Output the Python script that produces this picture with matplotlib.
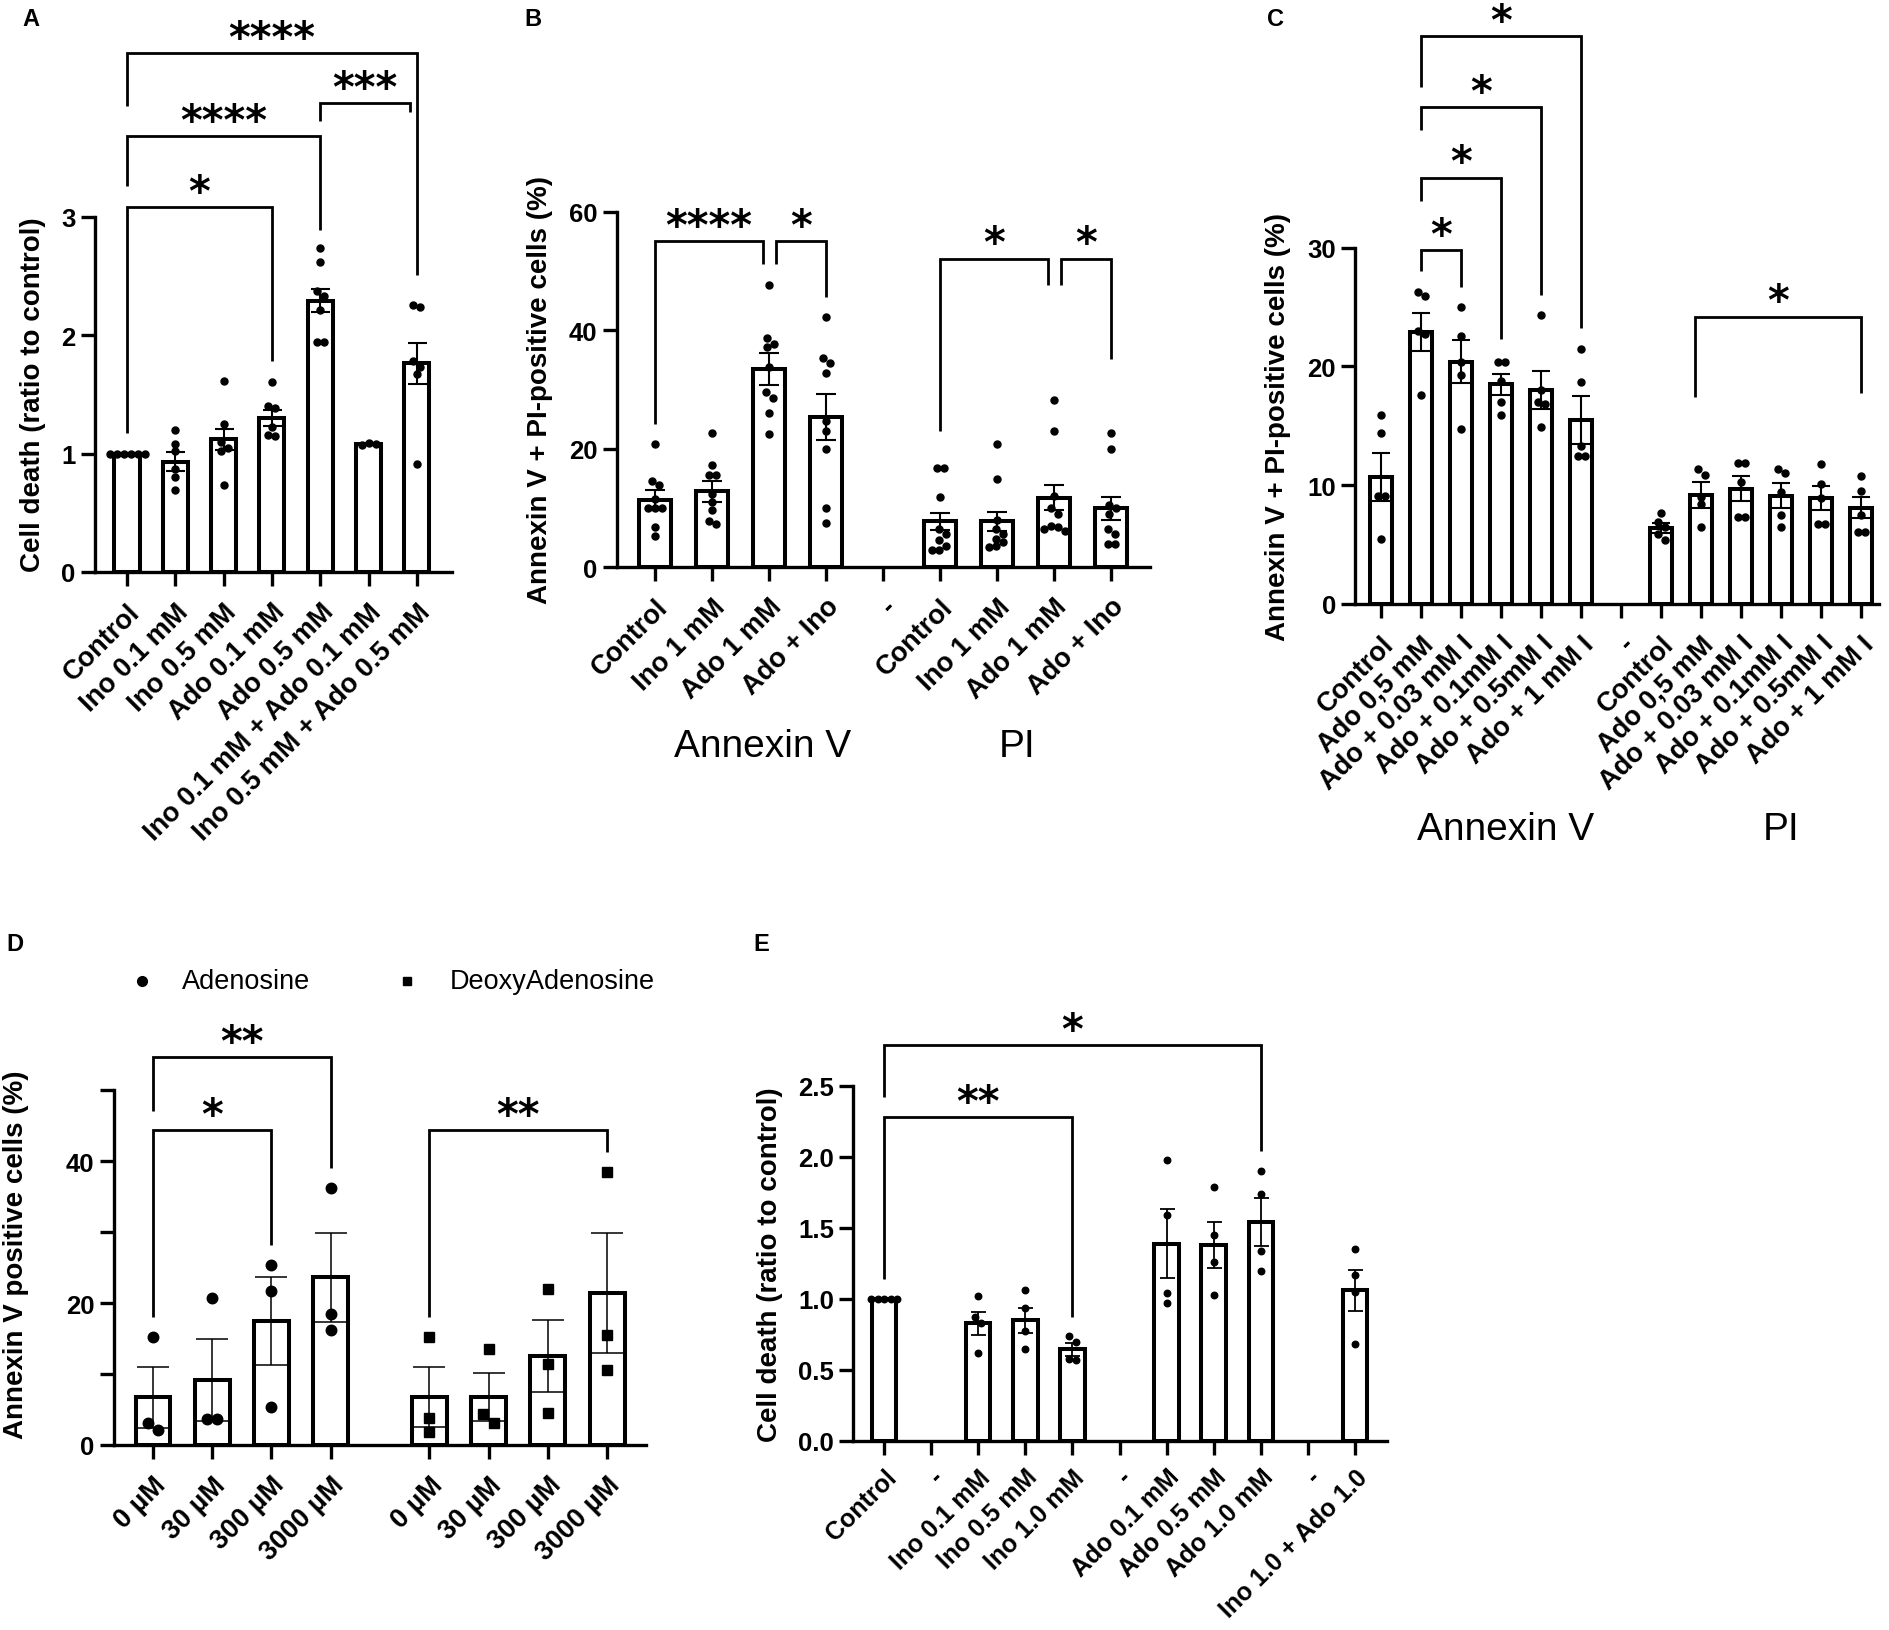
import numpy as np
import matplotlib
matplotlib.use('Agg')
import matplotlib.pyplot as plt
from matplotlib.lines import Line2D

nan = np.nan

# ---------------- DATA ----------------
# Panel A
labels_A = ['Control', 'Ino 0.1 mM', 'Ino 0.5 mM', 'Ado 0.1 mM', 'Ado 0.5 mM',
            'Ino 0.1 mM + Ado 0.1 mM', 'Ino 0.5 mM + Ado 0.5 mM']
mean_A = [1.00, 0.93, 1.12, 1.30, 2.29, 1.08, 1.76]
sem_A = [0.005, 0.08, 0.09, 0.07, 0.10, 0.01, 0.17]
pts_A = [[1.0, 1.0, 1.0, 1.0, 1.0, 1.0],
         [1.20, 1.08, 1.02, 0.87, 0.80, 0.69],
         [1.61, 1.25, 1.10, 1.05, 1.02, 0.73],
         [1.60, 1.40, 1.38, 1.22, 1.16, 1.15],
         [2.73, 2.62, 2.37, 2.33, 2.21, 1.94, 1.94],
         [1.09, 1.08, 1.07],
         [2.25, 2.24, 1.78, 1.73, 1.67, 0.91]]
sig_A = [(0, 3, 3.08, 1.17, 1.78, '*'),
         (0, 4, 3.68, 3.26, 2.89, '****'),
         (4, 5.85, 3.96, 3.81, 3.88, '***'),
         (0, 6, 4.38, 3.93, 2.51, '****')]

# Panel B
labels_B = ['Control', 'Ino 1 mM', 'Ado 1 mM', 'Ado + Ino', '-',
            'Control', 'Ino 1 mM', 'Ado 1 mM', 'Ado + Ino']
mean_B = [11.3, 12.8, 33.4, 25.4, nan, 7.7, 7.7, 11.7, 9.9]
sem_B = [1.7, 1.8, 2.7, 3.9, nan, 1.5, 1.6, 2.1, 1.9]
pts_B = [[20.8, 14.5, 13.8, 11.5, 10.0, 9.9, 9.9, 6.8, 5.2],
         [22.6, 17.3, 15.5, 15.5, 12.3, 11.0, 9.7, 7.8, 7.2],
         [47.7, 38.6, 37.6, 37.2, 33.8, 29.6, 28.5, 26.0, 22.5],
         [42.3, 35.3, 34.4, 32.7, 24.6, 23.0, 20.0, 9.9, 7.5],
         [],
         [16.8, 16.7, 11.9, 6.4, 5.5, 4.5, 3.6, 2.8, 2.9],
         [20.8, 14.8, 7.9, 6.5, 5.5, 4.8, 4.2, 3.6, 3.4],
         [28.2, 22.9, 12.0, 10.0, 9.0, 7.0, 6.8, 6.5, 6.0],
         [22.7, 19.9, 10.5, 9.9, 9.0, 6.4, 5.5, 3.9, 3.9]]
sig_B = [(0, 1.9, 55.0, 24.2, 51.1, '****'),
         (2.12, 3, 55.0, 51.1, 45.6, '*'),
         (5, 6.9, 52.1, 22.9, 47.6, '*'),
         (7.12, 8, 52.1, 47.6, 35.2, '*')]
groups_B = ['Annexin V', 'PI']

# Panel C
labels_C = ['Control', 'Ado 0,5 mM', 'Ado + 0.03 mM I', 'Ado + 0.1mM I', 'Ado + 0.5mM I',
            'Ado + 1 mM I', '-', 'Control', 'Ado 0,5 mM', 'Ado + 0.03 mM I',
            'Ado + 0.1mM I', 'Ado + 0.5mM I', 'Ado + 1 mM I']
mean_C = [10.7, 22.9, 20.4, 18.5, 18.0, 15.5, nan, 6.4, 9.2, 9.7, 9.1, 8.9, 8.1]
sem_C = [2.0, 1.6, 1.8, 0.9, 1.6, 2.0, nan, 0.4, 1.1, 1.05, 1.05, 1.0, 0.9]
pts_C = [[15.9, 14.4, 9.1, 9.1, 5.5],
         [26.3, 25.9, 23.0, 22.75, 17.6],
         [25.0, 22.6, 20.4, 19.3, 14.7],
         [20.4, 20.4, 18.8, 17.0, 15.9],
         [24.3, 18.0, 17.0, 16.8, 14.9],
         [21.5, 18.7, 13.3, 12.5, 12.5],
         [],
         [7.7, 6.9, 6.5, 5.9, 5.4],
         [11.4, 10.9, 9.0, 8.4, 6.5],
         [11.9, 11.9, 10.3, 7.3, 7.3],
         [11.4, 11.0, 9.4, 7.5, 6.5],
         [11.8, 10.1, 8.9, 6.7, 6.7],
         [10.8, 9.5, 7.5, 6.1, 6.1]]
sig_C = [(1, 2, 29.8, 28.0, 26.7, '*'),
         (1, 3, 35.9, 33.9, 22.3, '*'),
         (1, 4, 41.8, 39.9, 26.0, '*'),
         (1, 5, 47.8, 43.5, 23.2, '*'),
         (7.85, 12, 24.2, 17.4, 17.8, '*')]
groups_C = ['Annexin V', 'PI']

# Panel D
labels_D = ['0 µM', '30 µM', '300 µM', '3000 µM', '0 µM', '30 µM', '300 µM', '3000 µM']
series_D = ['Adenosine', 'DeoxyAdenosine']
mean_D = [6.7, 9.15, 17.4, 23.6, 6.8, 6.8, 12.5, 21.4]
sem_D = [4.3, 5.8, 6.2, 6.3, 4.2, 3.4, 5.1, 8.5]
pts_D = [[15.2, 3.1, 2.1], [20.7, 3.6, 3.6], [25.4, 21.7, 5.3], [36.2, 18.5, 16.2],
         [15.2, 3.8, 1.8], [13.5, 4.3, 3.1], [22.0, 11.4, 4.5], [38.4, 15.5, 10.5]]
sig_D = [(0, 2, 44.3, 18.0, 28.2, '*'),
         (0, 3, 54.6, 47.1, 39.0, '**'),
         (4, 7, 44.3, 18.0, 41.2, '**')]

# Panel E
labels_E = ['Control', '-', 'Ino 0.1 mM', 'Ino 0.5 mM', 'Ino 1.0 mM', '-',
            'Ado 0.1 mM', 'Ado 0.5 mM', 'Ado 1.0 mM', '-', 'Ino 1.0 + Ado 1.0']
mean_E = [1.0, nan, 0.83, 0.85, 0.645, nan, 1.39, 1.38, 1.54, nan, 1.06]
sem_E = [0.005, nan, 0.08, 0.09, 0.045, nan, 0.245, 0.16, 0.17, nan, 0.145]
pts_E = [[1.0, 1.0, 1.0, 1.0, 1.0], [],
         [1.02, 0.87, 0.83, 0.62], [1.06, 0.935, 0.775, 0.645], [0.74, 0.70, 0.58, 0.57], [],
         [1.98, 1.59, 1.04, 0.97], [1.79, 1.45, 1.26, 1.03], [1.90, 1.74, 1.34, 1.20], [],
         [1.35, 1.17, 1.05, 0.68]]
sig_E = [(0, 8, 2.79, 2.42, 2.04, '*'),
         (0, 4, 2.28, 1.14, 0.87, '**')]

# ---------------- FIGURE ----------------
W, H = 1889, 1631
plt.rcParams['font.family'] = ['Liberation Sans', 'DejaVu Sans']
fig = plt.figure(figsize=(W / 100, H / 100), dpi=100)
PX = 72 / 100.0  # points per pixel

YTICK_FS = 18.5
XTICK_FS = 19.5
LAB_FS = 20
GROUP_FS = 28
STAR_FAMILY = ['DejaVu Sans']


def make_ax(x0, ux, xlim, y0, uy, ylim, ytop, yticks, yticklabels):
    left = x0 + xlim[0] * ux
    right = x0 + xlim[1] * ux
    bottom = y0 - ylim[0] * uy
    top = y0 - ylim[1] * uy
    ax = fig.add_axes([left / W, 1 - bottom / H, (right - left) / W, (bottom - top) / H])
    ax.set_xlim(xlim)
    ax.set_ylim(ylim)
    for s in ['top', 'right']:
        ax.spines[s].set_visible(False)
    for s in ['left', 'bottom']:
        ax.spines[s].set_linewidth(2.4)
    ax.spines['left'].set_bounds(0, ytop)
    ax.set_yticks(yticks)
    ax.set_yticklabels(yticklabels, fontweight='bold', fontsize=YTICK_FS)
    ax.tick_params(axis='both', direction='out', length=10, width=2.4)
    ax.tick_params(axis='y', pad=4)
    ax.tick_params(axis='x', pad=9)
    ax.patch.set_alpha(0)
    return ax


def swarm_offsets(vals, d_px, ux, uy):
    order = sorted(range(len(vals)), key=lambda i: -vals[i])
    placed = {}
    cands = [0]
    for k in range(1, 12):
        cands += [k * d_px, -k * d_px]
    for i in order:
        y = vals[i] * uy
        for c in cands:
            ok = True
            for j, (px, py) in placed.items():
                if (c - px) ** 2 + (y - py) ** 2 < (0.95 * d_px) ** 2:
                    ok = False
                    break
            if ok:
                placed[i] = (c, y)
                break
    idx = sorted(placed.keys(), key=lambda i: placed[i][1])
    clusters, cur = [], [idx[0]] if idx else []
    for a, b in zip(idx[:-1], idx[1:]):
        if placed[b][1] - placed[a][1] < d_px:
            cur.append(b)
        else:
            clusters.append(cur)
            cur = [b]
    if cur:
        clusters.append(cur)
    off = [0.0] * len(vals)
    for cl in clusters:
        m = np.mean([placed[i][0] for i in cl])
        for i in cl:
            off[i] = (placed[i][0] - m) / ux
    return off


def draw_bars(ax, pos, means, sems, pts, ux, uy, width, dot_px, cap_px, elw,
              markers=None):
    for k, (x, m, s, p) in enumerate(zip(pos, means, sems, pts)):
        if np.isnan(m):
            continue
        ax.bar(x, m, width=width, facecolor='white', edgecolor='black',
               linewidth=2.9, zorder=2)
        mk = 'o' if markers is None else markers[k]
        if len(p):
            off = swarm_offsets(p, dot_px, ux, uy)
            ms = dot_px * PX * (0.9 if mk == 's' else 1.0)
            ax.plot([x + o for o in off], p, linestyle='none', marker=mk,
                    color='black', markersize=ms, zorder=3, clip_on=False)
        ax.errorbar([x], [m], yerr=[[s], [s]], fmt='none', ecolor='black',
                    elinewidth=elw, capsize=cap_px * PX, capthick=elw, zorder=4)


def bracket(ax, xl, xr, y, yl, yr, text, lw=2.0):
    ax.plot([xl, xl, xr, xr], [yl, y, y, yr], color='black', lw=lw, clip_on=False,
            solid_joinstyle='miter', solid_capstyle='butt', zorder=5)
    ax.annotate(text, xy=((xl + xr) / 2, y), xytext=(0, 1.5), textcoords='offset points',
                ha='center', va='baseline', fontsize=30, fontweight='bold',
                family=STAR_FAMILY, annotation_clip=False)


def xlabels(ax, pos, labels, fs=XTICK_FS):
    ax.set_xticks(pos)
    ax.set_xticklabels(labels, rotation=45, ha='right', rotation_mode='anchor',
                       fontweight='bold', fontsize=fs)


def ftext(x, y, s, **kw):
    fig.text(x / W, 1 - y / H, s, **kw)


# ---- Panel A ----
ux, uy = 48.3, 118.5
axA = make_ax(127, ux, (-0.66, 6.72), 573, uy, (0, 4.6), 3, [0, 1, 2, 3], ['0', '1', '2', '3'])
posA = list(range(len(labels_A)))
draw_bars(axA, posA, mean_A, sem_A, pts_A, ux, uy, 0.52, 7, 9.5, 1.5)
xlabels(axA, posA, labels_A)
for b in sig_A:
    bracket(axA, *b)
ftext(33, 395, 'Cell death (ratio to control)', rotation=90, ha='center', va='center',
      fontsize=LAB_FS, fontweight='bold')
ftext(22, 8, 'A', fontsize=17, fontweight='bold', va='top', ha='left')

# ---- Panel B ----
ux, uy = 57.0, 5.92
axB = make_ax(655, ux, (-0.667, 8.68), 568, uy, (0, 62), 60, [0, 20, 40, 60],
              ['0', '20', '40', '60'])
posB = list(range(len(labels_B)))
draw_bars(axB, posB, mean_B, sem_B, pts_B, ux, uy, 0.56, 7, 10, 1.5)
xlabels(axB, posB, labels_B)
for b in sig_B:
    bracket(axB, *b)
ftext(540, 390, 'Annexin V + PI-positive cells (%)', rotation=90, ha='center', va='center',
      fontsize=LAB_FS, fontweight='bold')
ftext(763, 747, groups_B[0], fontsize=GROUP_FS, ha='center', va='center')
ftext(1017, 747, groups_B[1], fontsize=GROUP_FS, ha='center', va='center')
ftext(524, 8, 'B', fontsize=17, fontweight='bold', va='top', ha='left')

# ---- Panel C ----
ux, uy = 40.0, 11.88
axC = make_ax(1381, ux, (-0.64, 12.46), 605, uy, (0, 48), 30, [0, 10, 20, 30],
              ['0', '10', '20', '30'])
posC = list(range(len(labels_C)))
draw_bars(axC, posC, mean_C, sem_C, pts_C, ux, uy, 0.54, 7, 9, 1.5)
xlabels(axC, posC, labels_C)
for b in sig_C:
    bracket(axC, *b)
ftext(1278, 427, 'Annexin V + PI-positive cells (%)', rotation=90, ha='center', va='center',
      fontsize=LAB_FS, fontweight='bold')
ftext(1506, 830, groups_C[0], fontsize=GROUP_FS, ha='center', va='center')
ftext(1781, 830, groups_C[1], fontsize=GROUP_FS, ha='center', va='center')
ftext(1267, 8, 'C', fontsize=17, fontweight='bold', va='top', ha='left')

# ---- Panel D ----
ux, uy = 59.2, 7.1
axD = make_ax(153, ux, (-0.66, 8.32), 1446, uy, (0, 56), 50, [0, 10, 20, 30, 40, 50],
              ['0', '', '20', '', '40', ''])
posD = [0, 1, 2, 3, 4.67, 5.67, 6.67, 7.67]
mk_D = ['o'] * 4 + ['s'] * 4
draw_bars(axD, posD, mean_D, sem_D, pts_D, ux, uy, 0.59, 10.5, 16, 1.1, markers=mk_D)
xlabels(axD, posD, labels_D)
sig_D_pos = [(posD[int(a)], posD[int(b)], y, yl, yr, t) for a, b, y, yl, yr, t in sig_D]
for b in sig_D_pos:
    bracket(axD, *b)
ftext(16, 1255, 'Annexin V positive cells (%)', rotation=90, ha='center', va='center',
      fontsize=LAB_FS, fontweight='bold')
ftext(6, 933, 'D', fontsize=17, fontweight='bold', va='top', ha='left')
fig.add_artist(Line2D([142 / W], [1 - 982 / H], marker='o', color='black', markersize=7,
                      linestyle='none', transform=fig.transFigure))
fig.add_artist(Line2D([407 / W], [1 - 982 / H], marker='s', color='black', markersize=6,
                      linestyle='none', transform=fig.transFigure))
ftext(182, 982, series_D[0], fontsize=19.5, ha='left', va='center')
ftext(450, 982, series_D[1], fontsize=19.5, ha='left', va='center')

# ---- Panel E ----
ux, uy = 47.1, 142.0
axE = make_ax(884, ux, (-0.65, 10.67), 1442, uy, (0, 2.95), 2.5,
              [0, 0.5, 1.0, 1.5, 2.0, 2.5], ['0.0', '0.5', '1.0', '1.5', '2.0', '2.5'])
posE = list(range(len(labels_E)))
draw_bars(axE, posE, mean_E, sem_E, pts_E, ux, uy, 0.52, 6.5, 7.5, 1.3)
xlabels(axE, posE, labels_E, fs=18)
axE.tick_params(axis='x', pad=7)
for b in sig_E:
    bracket(axE, *b)
ftext(770, 1265, 'Cell death (ratio to control)', rotation=90, ha='center', va='center',
      fontsize=LAB_FS, fontweight='bold')
ftext(753, 933, 'E', fontsize=17, fontweight='bold', va='top', ha='left')

fig.savefig('out.png', dpi=100, facecolor='white')
